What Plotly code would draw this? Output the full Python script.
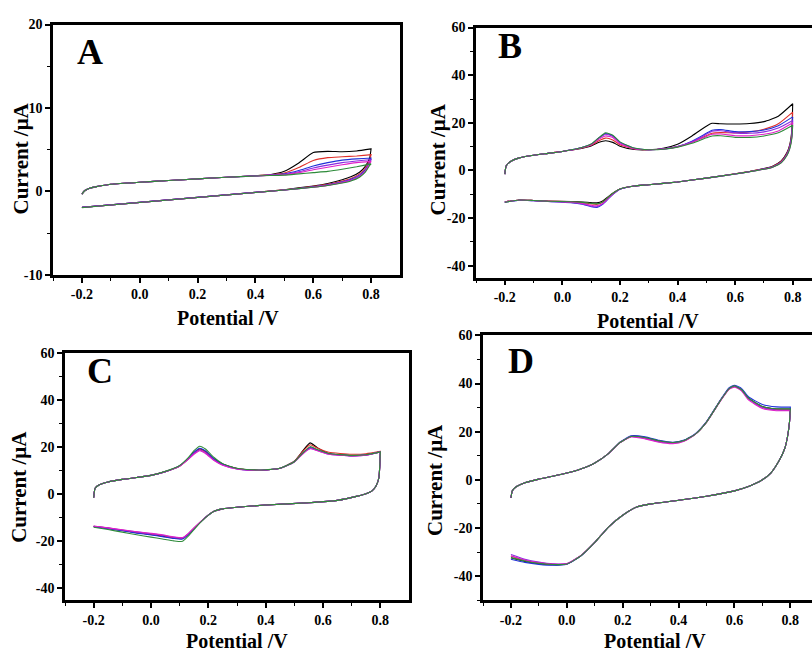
import plotly.graph_objects as go

W, H = 812, 660
COLORS = ["#000000", "#e0302a", "#2030d8", "#8a2be2", "#e020c8", "#2e8b3a"]

# ---------------- Panel A ----------------
A_E_FWD = [-0.2, -0.19, -0.17, -0.15, -0.1, 0.0, 0.1, 0.2, 0.3, 0.4, 0.45, 0.5, 0.55, 0.6, 0.65, 0.7, 0.75, 0.8]
A_I_FWD = [
    [-0.35, 0.05, 0.4, 0.55, 0.85, 1.1, 1.3, 1.5, 1.7, 1.88, 2.0, 2.4, 3.4, 4.65, 4.8, 4.75, 4.85, 5.1],
    [-0.3, 0.1, 0.42, 0.57, 0.85, 1.1, 1.3, 1.5, 1.7, 1.87, 1.98, 2.2, 2.85, 3.7, 4.05, 4.15, 4.25, 4.4],
    [-0.3, 0.1, 0.42, 0.57, 0.85, 1.1, 1.3, 1.5, 1.7, 1.86, 1.95, 2.1, 2.5, 3.05, 3.45, 3.75, 3.9, 4.0],
    [-0.3, 0.1, 0.42, 0.57, 0.85, 1.1, 1.3, 1.5, 1.7, 1.85, 1.94, 2.05, 2.35, 2.8, 3.15, 3.45, 3.65, 3.8],
    [-0.3, 0.1, 0.42, 0.57, 0.85, 1.1, 1.3, 1.5, 1.7, 1.85, 1.93, 2.0, 2.25, 2.6, 2.9, 3.2, 3.45, 3.6],
    [-0.3, 0.1, 0.42, 0.57, 0.85, 1.1, 1.3, 1.5, 1.7, 1.84, 1.9, 1.95, 2.1, 2.25, 2.4, 2.65, 2.95, 3.3],
]
A_E_REV = [0.8, 0.795, 0.78, 0.76, 0.73, 0.7, 0.65, 0.6, 0.5, 0.4, 0.3, 0.2, 0.1, 0.0, -0.1, -0.2]
A_I_REV = [
    [5.1, 4.0, 3.0, 2.3, 1.75, 1.4, 0.95, 0.65, 0.2, -0.12, -0.42, -0.72, -1.02, -1.32, -1.62, -1.92],
    [4.4, 3.7, 2.8, 2.1, 1.55, 1.25, 0.85, 0.6, 0.18, -0.12, -0.42, -0.72, -1.02, -1.32, -1.62, -1.92],
    [4.0, 3.5, 2.6, 1.95, 1.45, 1.15, 0.8, 0.55, 0.17, -0.12, -0.42, -0.72, -1.02, -1.32, -1.62, -1.92],
    [3.8, 3.4, 2.5, 1.85, 1.35, 1.1, 0.75, 0.52, 0.16, -0.12, -0.42, -0.72, -1.02, -1.32, -1.62, -1.92],
    [3.6, 3.3, 2.4, 1.8, 1.3, 1.05, 0.72, 0.5, 0.16, -0.13, -0.43, -0.73, -1.03, -1.33, -1.63, -1.93],
    [3.3, 3.1, 2.3, 1.7, 1.25, 1.0, 0.7, 0.5, 0.16, -0.13, -0.43, -0.73, -1.03, -1.33, -1.63, -1.95],
]

# ---------------- Panel B ----------------
B_E_FWD = [-0.2, -0.195, -0.18, -0.15, -0.1, -0.05, 0.0, 0.05, 0.1, 0.125, 0.15, 0.175, 0.2,
           0.25, 0.3, 0.35, 0.4, 0.45, 0.5, 0.52, 0.55, 0.6, 0.65, 0.7, 0.75, 0.8]
B_I_FWD = [
    [-1.5, 2.0, 3.8, 5.3, 6.4, 7.2, 8.0, 8.9, 10.3, 11.7, 12.5, 11.8, 10.2, 8.8, 8.7, 9.3, 11.0, 14.5, 18.6, 19.8, 19.6, 19.5, 19.7, 20.5, 22.8, 28.0],
    [-1.5, 2.0, 3.8, 5.3, 6.4, 7.2, 8.0, 9.0, 10.6, 12.4, 13.6, 12.8, 10.8, 9.0, 8.7, 9.0, 10.0, 12.0, 14.6, 15.6, 15.9, 15.8, 16.2, 17.3, 19.6, 24.5],
    [-1.5, 2.0, 3.8, 5.3, 6.4, 7.2, 8.0, 9.1, 11.0, 13.5, 15.5, 14.6, 11.8, 9.3, 8.7, 9.0, 10.0, 12.3, 15.6, 16.9, 17.2, 16.3, 16.3, 17.0, 18.8, 22.5],
    [-1.5, 2.0, 3.8, 5.3, 6.4, 7.2, 8.0, 9.1, 11.0, 13.4, 15.2, 14.4, 11.6, 9.2, 8.7, 9.0, 10.0, 12.1, 15.2, 16.5, 16.7, 15.8, 15.6, 16.2, 17.8, 21.0],
    [-1.5, 2.0, 3.8, 5.3, 6.4, 7.2, 8.0, 9.0, 10.8, 13.0, 14.5, 13.8, 11.2, 9.1, 8.7, 9.0, 9.9, 11.7, 14.3, 15.2, 15.3, 14.6, 14.6, 15.2, 16.6, 20.0],
    [-1.5, 2.0, 3.8, 5.3, 6.4, 7.2, 8.0, 9.1, 11.1, 13.6, 15.8, 14.8, 12.0, 9.4, 8.7, 8.9, 9.8, 11.4, 13.7, 14.5, 14.6, 13.9, 13.9, 14.5, 15.8, 19.0],
]
B_E_REV = [0.8, 0.797, 0.79, 0.78, 0.76, 0.73, 0.7, 0.65, 0.6, 0.5, 0.4, 0.3, 0.25, 0.2,
           0.17, 0.14, 0.12, 0.1, 0.07, 0.03, -0.05, -0.1, -0.15, -0.2]
B_I_REV = [
    [28.0, 17.0, 11.0, 7.5, 4.0, 1.8, 0.8, -0.4, -1.4, -3.2, -4.8, -6.0, -6.5, -7.8, -10.0, -12.8, -13.6, -13.5, -13.2, -13.0, -12.8, -12.6, -12.4, -13.2],
    [24.5, 16.0, 10.5, 7.2, 3.8, 1.7, 0.7, -0.4, -1.4, -3.2, -4.8, -6.0, -6.5, -7.8, -10.2, -13.2, -14.2, -14.0, -13.5, -13.1, -12.9, -12.6, -12.4, -13.2],
    [22.5, 15.0, 10.0, 6.8, 3.5, 1.5, 0.6, -0.5, -1.5, -3.2, -4.8, -6.0, -6.5, -7.9, -10.6, -14.2, -15.5, -15.2, -14.2, -13.5, -13.0, -12.7, -12.5, -13.3],
    [21.0, 14.5, 9.8, 6.6, 3.4, 1.5, 0.6, -0.5, -1.5, -3.2, -4.8, -6.0, -6.5, -7.9, -10.5, -14.0, -15.2, -15.0, -14.0, -13.4, -13.0, -12.7, -12.5, -13.3],
    [20.0, 14.0, 9.5, 6.5, 3.3, 1.4, 0.5, -0.5, -1.5, -3.2, -4.8, -6.0, -6.5, -7.8, -10.4, -13.8, -14.8, -14.6, -13.8, -13.3, -12.9, -12.6, -12.4, -13.2],
    [19.0, 13.5, 9.2, 6.3, 3.2, 1.4, 0.5, -0.5, -1.5, -3.2, -4.8, -6.0, -6.5, -7.8, -10.1, -13.2, -14.0, -13.8, -13.4, -13.1, -12.9, -12.6, -12.4, -13.3],
]

# ---------------- Panel C ----------------
C_E_FWD = [-0.2, -0.195, -0.18, -0.15, -0.1, -0.05, 0.0, 0.05, 0.1, 0.13, 0.15, 0.17, 0.19, 0.22,
           0.25, 0.3, 0.35, 0.4, 0.45, 0.5, 0.53, 0.555, 0.58, 0.62, 0.7, 0.75, 0.8]
C_I_FWD = [
    [-1.5, 2.5, 4.0, 5.2, 6.3, 7.1, 8.0, 9.6, 12.0, 15.0, 17.6, 19.2, 18.2, 15.0, 12.8, 10.9, 10.3, 10.3, 11.0, 14.0, 18.5, 21.8, 19.8, 17.3, 16.4, 16.8, 18.0],
    [-1.5, 2.5, 4.0, 5.2, 6.3, 7.1, 8.0, 9.6, 12.0, 15.0, 17.5, 19.0, 18.0, 14.8, 12.7, 10.9, 10.3, 10.3, 11.0, 14.0, 18.2, 21.0, 19.6, 17.8, 17.0, 17.2, 18.2],
    [-1.5, 2.5, 4.0, 5.2, 6.3, 7.1, 8.0, 9.6, 12.1, 15.2, 17.8, 19.5, 18.4, 15.0, 12.7, 10.8, 10.2, 10.3, 11.0, 13.8, 17.5, 19.8, 18.8, 17.2, 16.4, 16.7, 18.0],
    [-1.5, 2.5, 4.0, 5.2, 6.3, 7.1, 8.0, 9.6, 12.0, 15.0, 17.3, 18.8, 17.6, 14.5, 12.4, 10.7, 10.2, 10.3, 11.0, 13.7, 17.3, 19.5, 18.6, 17.0, 16.3, 16.6, 18.0],
    [-1.5, 2.5, 4.0, 5.2, 6.3, 7.1, 8.0, 9.6, 11.9, 14.8, 17.0, 18.5, 17.3, 14.3, 12.3, 10.7, 10.2, 10.3, 11.0, 13.7, 17.2, 19.3, 18.5, 17.0, 16.3, 16.6, 18.0],
    [-1.5, 2.5, 4.0, 5.2, 6.3, 7.1, 8.0, 9.7, 12.2, 15.5, 18.5, 20.4, 19.2, 15.6, 13.0, 11.0, 10.4, 10.4, 11.0, 13.8, 17.6, 20.2, 19.0, 17.3, 16.5, 16.8, 18.0],
]
C_E_REV = [0.8, 0.798, 0.795, 0.785, 0.77, 0.75, 0.72, 0.65, 0.55, 0.4, 0.3, 0.25, 0.22, 0.19,
           0.16, 0.13, 0.11, 0.08, 0.04, 0.0, -0.05, -0.1, -0.15, -0.2]
C_I_REV = [
    [18.0, 12.0, 7.0, 3.5, 1.3, 0.2, -0.8, -2.6, -3.6, -4.6, -5.5, -6.2, -7.2, -9.8, -13.3, -17.0, -18.8, -18.6, -17.8, -17.1, -16.3, -15.4, -14.5, -13.7],
    [18.2, 12.0, 7.0, 3.5, 1.3, 0.2, -0.8, -2.6, -3.6, -4.6, -5.5, -6.2, -7.2, -9.8, -13.2, -16.9, -18.7, -18.5, -17.6, -17.0, -16.2, -15.3, -14.4, -13.6],
    [18.0, 12.0, 7.0, 3.5, 1.3, 0.2, -0.8, -2.6, -3.6, -4.6, -5.5, -6.2, -7.2, -9.8, -13.3, -17.1, -19.0, -18.8, -18.0, -17.3, -16.5, -15.5, -14.6, -13.8],
    [18.0, 12.0, 7.0, 3.5, 1.3, 0.2, -0.8, -2.6, -3.6, -4.6, -5.5, -6.2, -7.2, -9.8, -13.2, -16.8, -18.6, -18.3, -17.4, -16.8, -16.0, -15.2, -14.3, -13.6],
    [18.0, 12.0, 7.0, 3.5, 1.3, 0.2, -0.8, -2.6, -3.6, -4.6, -5.5, -6.2, -7.2, -9.8, -13.1, -16.7, -18.4, -18.1, -17.2, -16.6, -15.9, -15.1, -14.3, -13.5],
    [18.0, 12.0, 7.0, 3.5, 1.3, 0.2, -0.8, -2.6, -3.6, -4.6, -5.5, -6.2, -7.2, -9.9, -13.6, -17.8, -20.0, -19.8, -19.0, -18.2, -17.2, -16.1, -15.0, -14.0],
]

# ---------------- Panel D ----------------
D_E_FWD = [-0.2, -0.195, -0.18, -0.15, -0.1, -0.05, 0.0, 0.05, 0.1, 0.15, 0.19, 0.23, 0.28, 0.33,
           0.38, 0.42, 0.46, 0.5, 0.55, 0.58, 0.6, 0.625, 0.65, 0.7, 0.75, 0.8]
D_I_FWD = [
    [-7.5, -4.5, -2.8, -1.2, 0.3, 1.5, 2.8, 4.5, 7.0, 11.0, 15.5, 18.0, 17.6, 16.1, 15.4, 16.3, 19.0, 24.0, 33.0, 37.8, 38.9, 37.4, 33.9, 30.4, 29.4, 29.4],
    [-7.5, -4.5, -2.8, -1.2, 0.3, 1.5, 2.8, 4.5, 7.0, 11.0, 15.5, 18.0, 17.5, 16.0, 15.3, 16.2, 19.0, 24.0, 33.0, 37.7, 38.8, 37.3, 33.7, 30.2, 29.2, 29.2],
    [-7.5, -4.5, -2.8, -1.2, 0.3, 1.5, 2.8, 4.5, 7.0, 11.0, 15.6, 18.3, 17.9, 16.4, 15.6, 16.5, 19.2, 24.2, 33.2, 38.2, 39.3, 38.0, 34.5, 31.3, 30.3, 30.2],
    [-7.5, -4.5, -2.8, -1.2, 0.3, 1.5, 2.8, 4.5, 7.0, 11.0, 15.5, 18.0, 17.3, 15.8, 15.2, 16.2, 19.0, 24.0, 33.0, 37.8, 38.9, 37.3, 33.6, 30.0, 29.0, 29.0],
    [-7.5, -4.5, -2.8, -1.2, 0.3, 1.5, 2.8, 4.5, 7.0, 11.0, 15.4, 17.8, 17.0, 15.6, 15.0, 16.0, 18.9, 23.9, 32.8, 37.5, 38.5, 37.0, 33.2, 29.6, 28.7, 28.8],
    [-7.5, -4.5, -2.8, -1.2, 0.3, 1.5, 2.8, 4.5, 7.0, 11.0, 15.5, 18.0, 17.6, 16.2, 15.5, 16.3, 19.0, 24.0, 33.0, 37.8, 39.0, 37.5, 34.0, 30.5, 29.5, 29.5],
]
D_E_REV = [0.8, 0.797, 0.79, 0.78, 0.76, 0.73, 0.7, 0.65, 0.6, 0.5, 0.4, 0.3, 0.25, 0.2, 0.15,
           0.1, 0.05, 0.0, -0.05, -0.1, -0.15, -0.2]
D_I_REV = [
    [29.4, 24.0, 18.0, 13.0, 8.0, 2.8, 0.0, -2.8, -4.6, -6.8, -8.5, -10.0, -11.3, -14.7, -19.5, -26.0, -31.6, -35.0, -35.3, -34.8, -33.9, -32.4],
    [29.2, 24.0, 18.0, 13.0, 8.0, 2.8, 0.0, -2.8, -4.6, -6.8, -8.5, -10.0, -11.3, -14.7, -19.5, -26.0, -31.5, -34.9, -35.1, -34.5, -33.4, -31.6],
    [30.2, 24.0, 18.0, 13.0, 8.0, 2.8, 0.0, -2.8, -4.6, -6.8, -8.5, -10.0, -11.3, -14.7, -19.5, -26.0, -31.7, -35.1, -35.5, -35.1, -34.3, -33.0],
    [29.0, 24.0, 18.0, 13.0, 8.0, 2.8, 0.0, -2.8, -4.6, -6.8, -8.5, -10.0, -11.3, -14.7, -19.5, -26.0, -31.5, -34.8, -34.9, -34.2, -33.0, -31.0],
    [28.8, 24.0, 18.0, 13.0, 8.0, 2.8, 0.0, -2.8, -4.6, -6.8, -8.5, -10.0, -11.3, -14.7, -19.5, -26.0, -31.5, -34.8, -35.0, -34.4, -33.3, -31.6],
    [29.5, 24.0, 18.0, 13.0, 8.0, 2.8, 0.0, -2.8, -4.6, -6.8, -8.5, -10.0, -11.3, -14.7, -19.5, -26.0, -31.6, -35.0, -35.2, -34.7, -33.7, -32.3],
]

# ---------------- Axis ticks ----------------
X_TICKS = [-0.2, 0.0, 0.2, 0.4, 0.6, 0.8]
X_TICK_TEXT = ["-0.2", "0.0", "0.2", "0.4", "0.6", "0.8"]
X_MINOR = [-0.3, -0.1, 0.1, 0.3, 0.5, 0.7]
YA_TICKS = [-10, 0, 10, 20]
YA_TICK_TEXT = ["-10", "0", "10", "20"]
YA_MINOR = [-5, 5, 15]
Y_TICKS = [-40, -20, 0, 20, 40, 60]
Y_TICK_TEXT = ["-40", "-20", "0", "20", "40", "60"]
Y_MINOR = [-50, -30, -10, 10, 30, 50]

PANEL_LETTERS = ["A", "B", "C", "D"]
X_TITLE = "Potential /V"
Y_TITLE = "Current /\u03bcA"

# ---------------- Layout geometry (pixels) ----------------
FONT = "Liberation Serif"
panels = [
    dict(E_f=A_E_FWD, I_f=A_I_FWD, E_r=A_E_REV, I_r=A_I_REV,
         box=(53, 400, 18, 274), xr=[-0.3, 0.9], yr=[-10, 20],
         yt=(YA_TICKS, YA_TICK_TEXT, YA_MINOR), mirror_y=True,
         letter=(90, 46), ytitle=(21, 155), xtitle=(228, 330)),
    dict(E_f=B_E_FWD, I_f=B_I_FWD, E_r=B_E_REV, I_r=B_I_REV,
         box=(476, 812, 21, 277), xr=[-0.3, 0.867], yr=[-45, 60],
         yt=(Y_TICKS, Y_TICK_TEXT, Y_MINOR), mirror_y=False,
         letter=(510, 40), ytitle=(438, 156), xtitle=(648, 334)),
    dict(E_f=C_E_FWD, I_f=C_I_FWD, E_r=C_E_REV, I_r=C_I_REV,
         box=(65, 409, 354, 607), xr=[-0.3, 0.9], yr=[-45, 60],
         yt=(Y_TICKS, Y_TICK_TEXT, Y_MINOR), mirror_y=True,
         letter=(100, 372), ytitle=(19, 491), xtitle=(237, 661)),
    dict(E_f=D_E_FWD, I_f=D_I_FWD, E_r=D_E_REV, I_r=D_I_REV,
         box=(483, 812, 336, 607), xr=[-0.3, 0.8775], yr=[-50, 60],
         yt=(Y_TICKS, Y_TICK_TEXT, Y_MINOR), mirror_y=False,
         letter=(521, 362), ytitle=(435, 484), xtitle=(655, 661)),
]

TICKFONT = dict(family=FONT, size=14, color="black", weight="bold")

fig = go.Figure()
layout = dict(width=W, height=H, margin=dict(l=0, r=0, t=0, b=0),
              paper_bgcolor="white", plot_bgcolor="white", showlegend=False)
annotations = []

for i, p in enumerate(panels):
    n = "" if i == 0 else str(i + 1)
    L, R, T, B = p["box"]
    for k in range(6):
        fig.add_trace(go.Scatter(
            x=p["E_f"] + p["E_r"], y=p["I_f"][k] + p["I_r"][k],
            mode="lines", line=dict(color=COLORS[k], width=1.1, shape="spline", smoothing=0.5),
            xaxis="x" + n, yaxis="y" + n, hoverinfo="skip", showlegend=False))
    layout["xaxis" + n] = dict(
        domain=[L / W, R / W], range=p["xr"], anchor="y" + n,
        showline=True, linewidth=2.5, linecolor="black", mirror=True,
        ticks="outside", ticklen=5, tickwidth=1.5, tickcolor="black",
        tickmode="array", tickvals=X_TICKS, ticktext=X_TICK_TEXT, tickfont=TICKFONT,
        minor=dict(ticks="outside", ticklen=3, tickwidth=1.2, tickcolor="black",
                   tickmode="array", tickvals=X_MINOR),
        showgrid=False, zeroline=False, fixedrange=True)
    yt, ytt, ym = p["yt"]
    layout["yaxis" + n] = dict(
        domain=[1 - B / H, 1 - T / H], range=p["yr"], anchor="x" + n,
        showline=True, linewidth=2.5, linecolor="black", mirror=p["mirror_y"],
        ticks="outside", ticklen=5, tickwidth=1.5, tickcolor="black",
        tickmode="array", tickvals=yt, ticktext=ytt, tickfont=TICKFONT,
        minor=dict(ticks="outside", ticklen=3, tickwidth=1.2, tickcolor="black",
                   tickmode="array", tickvals=ym),
        showgrid=False, zeroline=False, fixedrange=True)
    lx, ly = p["letter"]
    annotations.append(dict(text=PANEL_LETTERS[i], x=lx / W, y=1 - ly / H, xref="paper", yref="paper",
                            xanchor="center", yanchor="middle", showarrow=False,
                            font=dict(family=FONT, size=36, color="black", weight="bold")))
    tx, ty = p["ytitle"]
    annotations.append(dict(text=Y_TITLE, x=tx / W, y=1 - ty / H, xref="paper", yref="paper",
                            xanchor="center", yanchor="middle", showarrow=False, textangle=-90,
                            font=dict(family=FONT, size=21, color="black", weight="bold")))
    tx, ty = p["xtitle"]
    annotations.append(dict(text=X_TITLE, x=tx / W, y=1 - ty / H, xref="paper", yref="paper",
                            xanchor="center", yanchor="bottom", showarrow=False,
                            borderpad=0,
                            font=dict(family=FONT, size=20, color="black", weight="bold")))

layout["annotations"] = annotations
fig.update_layout(**layout)
fig.write_html("out.html", config={"displayModeBar": False},
               post_script="document.body.style.margin='0';document.body.style.overflow='hidden';")
